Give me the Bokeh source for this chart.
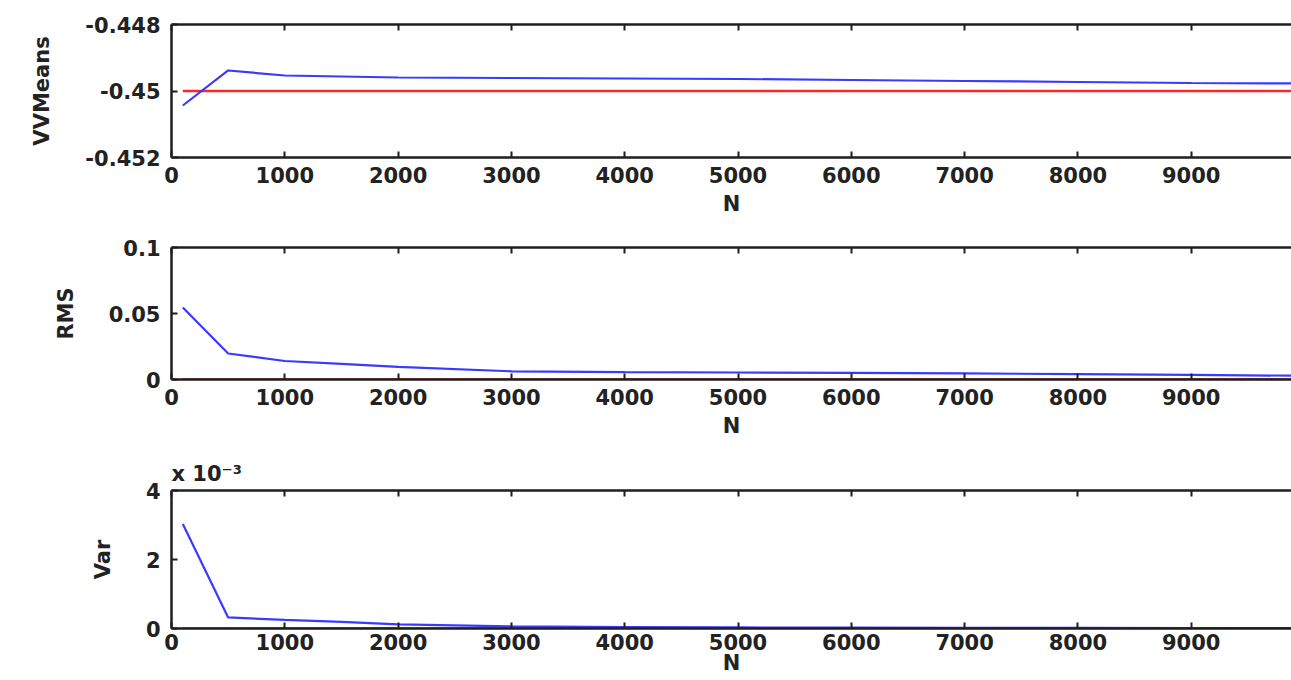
from bokeh.plotting import figure
from bokeh.layouts import column
from bokeh.models import (LinearAxis, FixedTicker, NumeralTickFormatter,
                          CustomJSTickFormatter, Range1d)
from bokeh.embed import file_html
from bokeh.resources import INLINE

# ---- data ----
n_samples = [100, 500, 1000, 1500, 2000, 3000, 4000, 5000, 6000, 7000, 8000, 9000, 10000]
vv_means = [-0.450436, -0.449383, -0.449534, -0.449564, -0.449594, -0.449609,
            -0.449624, -0.449639, -0.449669, -0.449699, -0.449729, -0.449759, -0.449774]
vv_true = [-0.45] * len(n_samples)
rms = [0.0545, 0.0197, 0.0140, 0.0118, 0.0095, 0.0062, 0.0056, 0.0053,
       0.0050, 0.0046, 0.0041, 0.0035, 0.0028]
rms_ref = [0.0] * len(n_samples)
var_e3 = [3.03, 0.32, 0.25, 0.19, 0.12, 0.06, 0.04, 0.03, 0.025, 0.02, 0.018, 0.014, 0.01]
var_ref = [0.0] * len(n_samples)

x_ticks = [0, 1000, 2000, 3000, 4000, 5000, 6000, 7000, 8000, 9000, 10000]
mean_ticks = [-0.452, -0.45, -0.448]
rms_ticks = [0, 0.05, 0.1]
var_ticks = [0, 2, 4]
x_label = "N"
var_scale_text = "x 10\u207b\u00b3"

X_END = 9885
FONT = "DejaVu Sans"
AX_COLOR = "#1e1e1e"
TXT_COLOR = "#222222"
BLUE = "#3a3aff"
RED = "#ff2626"


def style_axis(ax):
    ax.axis_line_color = AX_COLOR
    ax.axis_line_width = 2.5
    ax.major_tick_line_color = AX_COLOR
    ax.major_tick_line_width = 2
    ax.major_tick_in = 6
    ax.major_tick_out = 0
    ax.minor_tick_line_color = None
    ax.major_label_text_font = FONT
    ax.major_label_text_font_style = "bold"
    ax.major_label_text_font_size = "21px"
    ax.major_label_text_color = TXT_COLOR
    ax.axis_label_text_font = FONT
    ax.axis_label_text_font_style = "bold"
    ax.axis_label_text_font_size = "21px"
    ax.axis_label_text_color = TXT_COLOR


def panel(height, b_top, b_bottom, yr, yticks, yfmt, ylabel, ys_blue, ys_red,
          tick_standoff=9, label_standoff=6, title=None):
    kw = {}
    if title is not None:
        kw["title"] = title
    p = figure(width=1291, height=height, output_backend="svg", toolbar_location=None,
               x_range=Range1d(0, X_END), y_range=Range1d(*yr),
               min_border_left=171, min_border_right=0,
               min_border_top=b_top, min_border_bottom=b_bottom, **kw)
    p.outline_line_color = None
    p.grid.visible = False
    p.background_fill_color = "white"
    p.border_fill_color = "white"

    xa = p.xaxis[0]
    style_axis(xa)
    xa.ticker = FixedTicker(ticks=x_ticks)
    xa.major_label_standoff = tick_standoff
    xa.axis_label = x_label
    xa.axis_label_standoff = label_standoff

    ya = p.yaxis[0]
    style_axis(ya)
    ya.ticker = FixedTicker(ticks=yticks)
    ya.formatter = NumeralTickFormatter(format=yfmt)
    ya.major_label_standoff = 11
    ya.axis_label = ylabel
    ya.axis_label_standoff = 28

    top = LinearAxis(ticker=FixedTicker(ticks=x_ticks),
                     formatter=CustomJSTickFormatter(code="return ''"))
    style_axis(top)
    top.major_label_standoff = 0
    top.major_label_text_font_size = "1px"
    p.add_layout(top, "above")

    p.line(n_samples, ys_red, line_color=RED, line_width=2.5)
    p.line(n_samples, ys_blue, line_color=BLUE, line_width=2.2)
    return p


p1 = panel(227, 24, 70, (-0.452, -0.448), mean_ticks, "0.[000]", "VVMeans", vv_means, vv_true)
p2 = panel(222, 20, 70, (0, 0.1), rms_ticks, "0.[00]", "RMS", rms, rms_ref)
p3 = panel(231, 41, 52, (0, 4), var_ticks, "0", "Var", var_e3, var_ref,
           tick_standoff=5, label_standoff=-2, title=var_scale_text)
p3.title.align = "left"
p3.title.text_font = FONT
p3.title.text_font_style = "bold"
p3.title.text_font_size = "21px"
p3.title.text_color = TXT_COLOR
p3.title.standoff = 9
p3.title.offset = 0

layout = column(p1, p2, p3, spacing=0)
open("out.html", "w").write(file_html(layout, INLINE))
